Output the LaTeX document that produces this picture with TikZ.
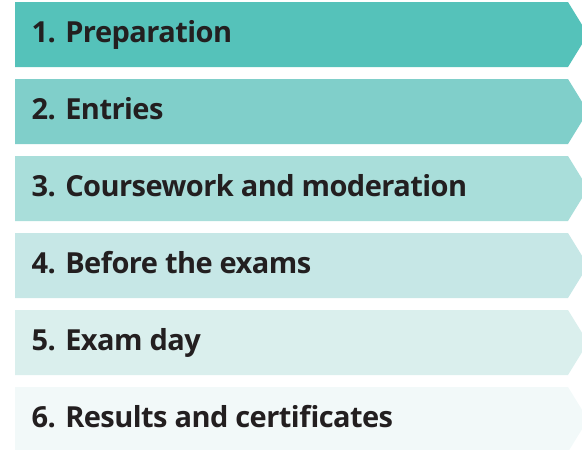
\documentclass[tikz,border=0pt]{standalone}
\usepackage{fontspec}
\setmainfont[LetterSpace=-1.9]{Open Sans}

\definecolor{stepink}{HTML}{231F20}
\definecolor{stepA}{HTML}{55C2BA}
\definecolor{stepB}{HTML}{80CFCA}
\definecolor{stepC}{HTML}{A9DEDA}
\definecolor{stepD}{HTML}{C6E7E6}
\definecolor{stepE}{HTML}{DAEFED}
\definecolor{stepF}{HTML}{F2F9F9}

\begin{document}
\begin{tikzpicture}[x=1pt, y=-1pt,
    steptext/.style={anchor=base west, inner sep=0pt, text=stepink, font=\bfseries\fontsize{29}{34}\selectfont}]
    \path[use as bounding box, clip] (0,0) rectangle (582,450);

    % balken mit spitze nach rechts
    \fill[stepA] (15,2) -- (568,2) -- (588,34.5) -- (568,67) -- (15,67) -- cycle;
    \fill[stepB] (15,79) -- (568,79) -- (588,111.5) -- (568,144) -- (15,144) -- cycle;
    \fill[stepC] (15,156) -- (568,156) -- (588,188.5) -- (568,221) -- (15,221) -- cycle;
    \fill[stepD] (15,233) -- (568,233) -- (588,265.5) -- (568,298) -- (15,298) -- cycle;
    \fill[stepE] (15,310) -- (568,310) -- (588,342.5) -- (568,375) -- (15,375) -- cycle;
    \fill[stepF] (15,387) -- (568,387) -- (588,419.5) -- (568,452) -- (15,452) -- cycle;

    \node[steptext] (prep) at (31.5, 42) {1. Preparation};
    \node[steptext] (entries) at (31.5, 119) {2. Entries};
    \node[steptext] (course) at (31.5, 196) {3. Coursework and moderation};
    \node[steptext] (before) at (31.5, 273) {4. Before the exams};
    \node[steptext] (examday) at (31.5, 350) {5. Exam day};
    \node[steptext] (results) at (31.5, 427) {6. Results and certificates};

\end{tikzpicture}
\end{document}
